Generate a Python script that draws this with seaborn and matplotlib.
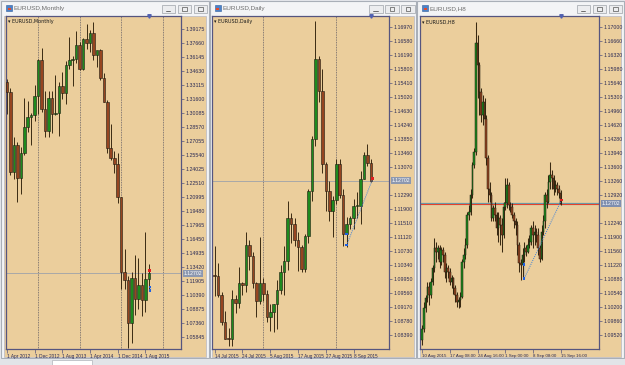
import matplotlib
matplotlib.use("Agg")
import matplotlib.pyplot as plt
import seaborn as sns
import pandas as pd
from matplotlib.patches import Rectangle

sns.set_theme(style="white")
plt.rcParams["font.family"] = ["Liberation Sans", "DejaVu Sans"]

# ---------------- data ----------------
# Monthly EURUSD, Apr 2012 .. Sep 2015
monthly_open = [1.3340, 1.3235, 1.2365, 1.2665, 1.2300, 1.2575, 1.2860, 1.2960, 1.2985, 1.3190,
                1.3580, 1.3055, 1.2815, 1.3165, 1.2995, 1.3010, 1.3300, 1.3220, 1.3525, 1.3585,
                1.3590, 1.3745, 1.3485, 1.3805, 1.3770, 1.3870, 1.3635, 1.3690, 1.3390, 1.3130,
                1.2630, 1.2525, 1.2450, 1.2100, 1.1290, 1.1195, 1.0730, 1.1220, 1.0990, 1.1145,
                1.0985, 1.1210]
monthly_high = [1.3380, 1.3283, 1.2748, 1.2693, 1.2636, 1.3172, 1.3140, 1.3012, 1.3308, 1.3590,
                1.3711, 1.3246, 1.3243, 1.3243, 1.3416, 1.3345, 1.3452, 1.3568, 1.3832, 1.3621,
                1.3893, 1.3775, 1.3825, 1.3967, 1.3905, 1.3993, 1.3677, 1.3700, 1.3444, 1.3150,
                1.2887, 1.2601, 1.2570, 1.2100, 1.1534, 1.1240, 1.1290, 1.1466, 1.1436, 1.1278,
                1.1714, 1.1373]
monthly_low = [1.3001, 1.2335, 1.2288, 1.2042, 1.2132, 1.2557, 1.2802, 1.2661, 1.2925, 1.2998,
               1.3019, 1.2745, 1.2746, 1.2795, 1.2990, 1.2755, 1.3161, 1.3105, 1.3480, 1.3295,
               1.3545, 1.3477, 1.3475, 1.3705, 1.3673, 1.3587, 1.3503, 1.3366, 1.3130, 1.2570,
               1.2500, 1.2358, 1.2035, 1.1098, 1.1098, 1.0462, 1.0520, 1.0819, 1.0888, 1.0808,
               1.0848, 1.1087]
monthly_close = [1.3235, 1.2365, 1.2665, 1.2300, 1.2575, 1.2860, 1.2960, 1.2985, 1.3190, 1.3580,
                 1.3055, 1.2815, 1.3165, 1.2995, 1.3010, 1.3300, 1.3220, 1.3525, 1.3585, 1.3590,
                 1.3745, 1.3485, 1.3805, 1.3770, 1.3870, 1.3635, 1.3690, 1.3390, 1.3130, 1.2630,
                 1.2525, 1.2450, 1.2100, 1.1290, 1.1195, 1.0730, 1.1220, 1.0990, 1.1145, 1.0985,
                 1.1210, 1.1270]
monthly_xlabels = ["1 Apr 2012", "1 Dec 2012", "1 Aug 2013", "1 Apr 2014", "1 Dec 2014", "1 Aug 2015"]
monthly_xlabel_bars = [0, 8, 16, 24, 32, 40]
monthly_separators = [9, 21, 33, 45]
monthly_yticks = [1.05845, 1.07360, 1.08875, 1.10390, 1.11905, 1.13420, 1.14935, 1.16450,
                  1.17965, 1.19480, 1.20995, 1.22510, 1.24025, 1.25540, 1.27055, 1.28570,
                  1.30085, 1.31600, 1.33115, 1.34630, 1.36145, 1.37660, 1.39175]

# Daily EURUSD, 14 Jul 2015 .. 15 Sep 2015
daily_open = [1.1005, 1.1003, 1.0950, 1.0875, 1.0830, 1.0828, 1.0940, 1.0930, 1.0985, 1.0980,
              1.1090, 1.1060, 1.0985, 1.0935, 1.0985, 1.0955, 1.0890, 1.0905, 1.0925, 1.0965,
              1.1015, 1.1045, 1.1165, 1.1150, 1.1105, 1.1085, 1.1025, 1.1115, 1.1240, 1.1385,
              1.1610, 1.1520, 1.1315, 1.1240, 1.1185, 1.1215, 1.1315, 1.1230, 1.1120, 1.1150,
              1.1165, 1.1200, 1.1200, 1.1275, 1.1340, 1.1320]
daily_high = [1.1088, 1.1041, 1.0960, 1.0907, 1.0859, 1.0966, 1.0952, 1.1030, 1.0987, 1.1128,
              1.1104, 1.1072, 1.0987, 1.1113, 1.0998, 1.0965, 1.0925, 1.0927, 1.0993, 1.1035,
              1.1088, 1.1214, 1.1180, 1.1166, 1.1126, 1.1090, 1.1122, 1.1246, 1.1393, 1.1714,
              1.1618, 1.1581, 1.1321, 1.1268, 1.1227, 1.1331, 1.1330, 1.1247, 1.1168, 1.1171,
              1.1220, 1.1237, 1.1296, 1.1349, 1.1373, 1.1330]
daily_low = [1.0948, 1.0946, 1.0867, 1.0830, 1.0808, 1.0810, 1.0900, 1.0914, 1.0950, 1.0960,
             1.1020, 1.0970, 1.0890, 1.0926, 1.0934, 1.0875, 1.0850, 1.0848, 1.0856, 1.0955,
             1.0950, 1.1021, 1.1095, 1.1088, 1.1017, 1.1016, 1.1016, 1.1095, 1.1212, 1.1367,
             1.1489, 1.1290, 1.1185, 1.1157, 1.1113, 1.1205, 1.1221, 1.1087, 1.1086, 1.1134,
             1.1135, 1.1166, 1.1149, 1.1275, 1.1310, 1.1265]
daily_close = [1.1003, 1.0950, 1.0875, 1.0830, 1.0828, 1.0940, 1.0930, 1.0985, 1.0980, 1.1090,
               1.1060, 1.0985, 1.0935, 1.0985, 1.0955, 1.0890, 1.0905, 1.0925, 1.0965, 1.1015,
               1.1045, 1.1165, 1.1150, 1.1105, 1.1085, 1.1025, 1.1115, 1.1240, 1.1385, 1.1610,
               1.1520, 1.1315, 1.1240, 1.1185, 1.1215, 1.1315, 1.1230, 1.1120, 1.1150, 1.1165,
               1.1200, 1.1200, 1.1275, 1.1340, 1.1320, 1.1270]
daily_xlabels = ["14 Jul 2015", "24 Jul 2015", "5 Aug 2015", "17 Aug 2015", "27 Aug 2015", "8 Sep 2015"]
daily_xlabel_bars = [0, 8, 16, 24, 32, 40]
daily_separators = [14, 35]
daily_yticks = [1.08390, 1.08780, 1.09170, 1.09560, 1.09950, 1.10340, 1.10730, 1.11120,
                1.11510, 1.11900, 1.12290, 1.12680, 1.13070, 1.13460, 1.13850, 1.14240,
                1.14630, 1.15020, 1.15410, 1.15800, 1.16190, 1.16580, 1.16970]

# H8 EURUSD, 10 Aug 2015 00:00 .. 15 Sep 2015 16:00
h8_open = [1.0939, 1.0967, 1.1016, 1.1040, 1.1069, 1.1048, 1.1081, 1.1113, 1.1162, 1.1154,
           1.1162, 1.1129, 1.1158, 1.1146, 1.1105, 1.1113, 1.1105, 1.1081, 1.1089, 1.1065,
           1.1048, 1.1032, 1.1036, 1.1044, 1.1129, 1.1146, 1.1170, 1.1243, 1.1251, 1.1291,
           1.1364, 1.1396, 1.1660, 1.1607, 1.1542, 1.1486, 1.1518, 1.1477, 1.1380, 1.1307,
           1.1291, 1.1235, 1.1259, 1.1243, 1.1210, 1.1235, 1.1218, 1.1194, 1.1263, 1.1271,
           1.1316, 1.1267, 1.1263, 1.1243, 1.1227, 1.1218, 1.1170, 1.1125, 1.1121, 1.1146,
           1.1162, 1.1154, 1.1170, 1.1178, 1.1210, 1.1194, 1.1202, 1.1194, 1.1162, 1.1137,
           1.1202, 1.1227, 1.1291, 1.1275, 1.1324, 1.1340, 1.1332, 1.1307, 1.1316, 1.1307,
           1.1295]
h8_high = [1.0976, 1.1032, 1.1048, 1.1081, 1.1081, 1.1089, 1.1121, 1.1186, 1.1178, 1.1170,
           1.1170, 1.1166, 1.1166, 1.1154, 1.1125, 1.1121, 1.1113, 1.1097, 1.1093, 1.1073,
           1.1056, 1.1044, 1.1056, 1.1137, 1.1162, 1.1186, 1.1251, 1.1267, 1.1307, 1.1372,
           1.1405, 1.1712, 1.1680, 1.1615, 1.1550, 1.1534, 1.1526, 1.1486, 1.1388, 1.1324,
           1.1299, 1.1267, 1.1275, 1.1251, 1.1251, 1.1243, 1.1235, 1.1275, 1.1332, 1.1332,
           1.1324, 1.1275, 1.1271, 1.1251, 1.1235, 1.1227, 1.1178, 1.1137, 1.1162, 1.1178,
           1.1170, 1.1186, 1.1194, 1.1218, 1.1227, 1.1218, 1.1210, 1.1210, 1.1170, 1.1218,
           1.1243, 1.1299, 1.1307, 1.1340, 1.1372, 1.1352, 1.1340, 1.1328, 1.1324, 1.1316,
           1.1303]
h8_low = [1.0927, 1.0959, 1.1008, 1.1032, 1.1024, 1.1040, 1.1073, 1.1105, 1.1129, 1.1137,
          1.1113, 1.1121, 1.1129, 1.1089, 1.1081, 1.1089, 1.1073, 1.1065, 1.1052, 1.1032,
          1.1020, 1.1016, 1.1020, 1.1040, 1.1113, 1.1137, 1.1162, 1.1231, 1.1243, 1.1283,
          1.1356, 1.1388, 1.1526, 1.1486, 1.1469, 1.1461, 1.1461, 1.1364, 1.1275, 1.1275,
          1.1227, 1.1227, 1.1227, 1.1194, 1.1178, 1.1170, 1.1154, 1.1186, 1.1255, 1.1259,
          1.1255, 1.1251, 1.1235, 1.1210, 1.1194, 1.1146, 1.1105, 1.1085, 1.1089, 1.1129,
          1.1142, 1.1150, 1.1162, 1.1170, 1.1162, 1.1170, 1.1178, 1.1146, 1.1129, 1.1133,
          1.1194, 1.1210, 1.1259, 1.1271, 1.1307, 1.1307, 1.1291, 1.1299, 1.1291, 1.1283,
          1.1267]
h8_close = [1.0967, 1.1016, 1.1040, 1.1069, 1.1048, 1.1081, 1.1113, 1.1162, 1.1154, 1.1162,
            1.1129, 1.1158, 1.1146, 1.1105, 1.1113, 1.1105, 1.1081, 1.1089, 1.1065, 1.1048,
            1.1032, 1.1036, 1.1044, 1.1129, 1.1146, 1.1170, 1.1243, 1.1251, 1.1291, 1.1364,
            1.1396, 1.1660, 1.1607, 1.1542, 1.1486, 1.1518, 1.1477, 1.1380, 1.1307, 1.1291,
            1.1235, 1.1259, 1.1243, 1.1210, 1.1235, 1.1218, 1.1194, 1.1263, 1.1271, 1.1316,
            1.1267, 1.1263, 1.1243, 1.1227, 1.1218, 1.1170, 1.1125, 1.1121, 1.1146, 1.1162,
            1.1154, 1.1170, 1.1178, 1.1210, 1.1194, 1.1202, 1.1194, 1.1162, 1.1137, 1.1202,
            1.1227, 1.1291, 1.1275, 1.1324, 1.1340, 1.1332, 1.1307, 1.1316, 1.1307, 1.1295,
            1.1270]
h8_xlabels = ["10 Aug 2015", "17 Aug 08:00", "24 Aug 16:00", "1 Sep 00:00", "8 Sep 08:00", "15 Sep 16:00"]
h8_xlabel_bars = [0, 16, 32, 48, 64, 80]
h8_yticks = [1.09520, 1.09860, 1.10200, 1.10540, 1.10880, 1.11220, 1.11560, 1.11900,
             1.12240, 1.12580, 1.12920, 1.13260, 1.13600, 1.13940, 1.14280, 1.14620,
             1.14960, 1.15300, 1.15640, 1.15980, 1.16320, 1.16660, 1.17000]

bid_price = 1.12702
bid_label = "1.12702"

# trade marks (bar index, price)
daily_trade_bar = [38, 38, 45.5]
daily_trade_price = [1.1122, 1.1090, 1.1275]
h8_trade_bar = [59, 59, 80.5]
h8_trade_price = [1.1123, 1.1089, 1.1279]
monthly_trade_bar = [41.3, 41.3, 41.3]
monthly_trade_price = [1.1125, 1.1085, 1.1300]

# ---------------- styling ----------------
W, H = 625, 365
TAN = "#EBCE9C"
FRAME = "#55557F"
TXT = "#2A2A55"
BULL = "#1E8A1E"
BEAR = "#964520"
WICK = "#3A2A12"
EDGE = "#1C1A10"
TRADE = "#3C7FD8"

fig = plt.figure(figsize=(W / 100, H / 100), dpi=100)
fig.patch.set_facecolor("#E6E8EC")

bg = fig.add_axes([0, 0, 1, 1])
bg.set_xlim(0, W)
bg.set_ylim(H, 0)
bg.axis("off")


def window(x0, x1, title):
    bg.add_patch(Rectangle((x0, 1), x1 - x0, 357, facecolor="#F3F4F6", edgecolor="#A9AFB8", lw=0.8))
    bg.add_patch(Rectangle((x0 + 2.5, 15.5), x1 - x0 - 5, 341, facecolor=TAN, edgecolor="#B8B8C4", lw=0.5))
    bg.add_patch(Rectangle((x0 + 5, 5), 6, 6, facecolor="#4C82C8", edgecolor="#2E5E9E", lw=0.4))
    bg.add_patch(Rectangle((x0 + 6.5, 7.5), 3, 2.5, facecolor="#E44A2A", edgecolor="none"))
    bg.text(x0 + 13, 8.3, title, fontsize=4.6, color="#6E6E6E", va="center", ha="left")
    for bx in [x1 - 47, x1 - 31, x1 - 15]:
        bg.add_patch(Rectangle((bx, 5), 13.5, 8, facecolor="#ECEDEF", edgecolor="#9EA3AA", lw=0.5))
    bg.plot([x1 - 43, x1 - 38.5], [10.5, 10.5], color="#555", lw=0.6)
    bg.add_patch(Rectangle((x1 - 26.5, 7), 4.5, 4, facecolor="none", edgecolor="#555", lw=0.5))
    bg.add_patch(Rectangle((x1 - 10.5, 7), 4.5, 4, facecolor="none", edgecolor="#555", lw=0.5))


def candles(ax, xs, o, h, l, c, width, wick_lw, edge_lw):
    df = pd.DataFrame({"x": xs, "open": o, "high": h, "low": l, "close": c})
    df["bottom"] = df[["open", "close"]].min(axis=1)
    df["height"] = (df["close"] - df["open"]).abs()
    df["bull"] = df["close"] >= df["open"]
    ax.vlines(df["x"], df["low"], df["high"], color=WICK, lw=wick_lw, zorder=2)
    colors = [BULL if b else BEAR for b in df["bull"]]
    hmin = (ax.get_ylim()[1] - ax.get_ylim()[0]) * 0.003
    ax.bar(df["x"], df["height"].clip(lower=hmin), width=width, bottom=df["bottom"],
           color=colors, edgecolor=EDGE, linewidth=edge_lw, zorder=3)


def chart(px0, px1, xlim, ylim, yticks, xbars, xlabels, name, xsize):
    ax = fig.add_axes([px0 / W, 1 - 349 / H, (px1 - px0) / W, (349 - 16) / H])
    ax.set_facecolor(TAN)
    ax.set_xlim(*xlim)
    ax.set_ylim(*ylim)
    for s in ax.spines.values():
        s.set_color(FRAME)
        s.set_linewidth(0.9)
    ax.yaxis.tick_right()
    # ticks hidden behind the bid price box are not labelled
    span = ylim[1] - ylim[0]
    shown = [v for v in yticks if abs(v - bid_price) / span * 333 > 5.5]
    ax.set_yticks(shown)
    ax.set_yticklabels([f"{v:.5f}" for v in shown])
    ax.set_xticks(xbars)
    ax.set_xticklabels(xlabels)
    ax.tick_params(axis="y", which="both", right=True, left=False, direction="out", length=2.2,
                   width=0.5, color=FRAME, labelsize=3.75, labelcolor=TXT, pad=1.2)
    ax.tick_params(axis="x", which="both", bottom=True, direction="out", length=3,
                   width=0.5, color=FRAME, labelsize=xsize, labelcolor=TXT, pad=0.6)
    for t in ax.get_xticklabels():
        t.set_horizontalalignment("left")
    ax.grid(False)
    ax.text(0.012, 0.99, "\u25be " + name, transform=ax.transAxes, fontsize=3.5,
            color="#1A1A1A", va="top", ha="left", family=["DejaVu Sans"])
    return ax


def price_line(ax, color, box_color, under=None):
    if under is not None:
        ax.axhline(bid_price, color=under, lw=1.6, zorder=1, alpha=0.8)
    ax.axhline(bid_price, color=color, lw=0.7, zorder=1)
    ax.annotate(bid_label, xy=(1.0, bid_price), xycoords=("axes fraction", "data"),
                xytext=(2.0, 0), textcoords="offset points", fontsize=3.7, color="white",
                va="center", ha="left",
                bbox=dict(boxstyle="square,pad=0.15", facecolor=box_color, edgecolor="none"))


def shift_marker(ax, xbar):
    ax.plot([xbar], [ax.get_ylim()[1]], marker="v", markersize=2.5, color="#5060B0",
            clip_on=False, zorder=6)


def trade(ax, bars, prices, link=True):
    tdf = pd.DataFrame({"bar": bars, "price": prices})
    if link:
        sns.lineplot(data=tdf.iloc[[1, 2]], x="bar", y="price", ax=ax, color=TRADE,
                     lw=0.7, linestyle=(0, (1, 1.2)), zorder=5)
    sns.lineplot(data=tdf.iloc[[0, 1]], x="bar", y="price", ax=ax, color=TRADE,
                 lw=0.7, linestyle=(0, (1, 1.2)), zorder=5)
    sns.scatterplot(data=tdf.iloc[[0, 1]], x="bar", y="price", ax=ax, color="#1E60E0",
                    marker="s", s=3, edgecolor="none", zorder=6)
    sns.scatterplot(data=tdf.iloc[[2]], x="bar", y="price", ax=ax, color="#E02020",
                    marker="s", s=4, edgecolor="none", zorder=6)
    ax.set_xlabel("")
    ax.set_ylabel("")


window(1, 208.5, "EURUSD,Monthly")
window(209.5, 416, "EURUSD,Daily")
window(417, 623.5, "EURUSD,H8")

# ---- monthly ----
axm = chart(6, 181, (-0.29, 50.3), (1.04513, 1.40583), monthly_yticks,
            monthly_xlabel_bars, monthly_xlabels, "EURUSD,Monthly", 3.4)
for s in monthly_separators:
    axm.axvline(s, color="#4A4A5A", lw=0.5, linestyle=(0, (1.2, 1.2)), zorder=1)
price_line(axm, "#A8A8A8", "#8C98B0")
candles(axm, list(range(len(monthly_open))), monthly_open, monthly_high, monthly_low,
        monthly_close, 0.74, 0.7, 0.4)
trade(axm, monthly_trade_bar, monthly_trade_price, link=False)
shift_marker(axm, 41)

# ---- daily ----
axd = chart(212, 389, (-0.78, 50.2), (1.08008, 1.17285), daily_yticks,
            daily_xlabel_bars, daily_xlabels, "EURUSD,Daily", 3.3)
for s in daily_separators:
    axd.axvline(s, color="#4A4A5A", lw=0.5, linestyle=(0, (1.2, 1.2)), zorder=1)
price_line(axd, "#A8A8A8", "#8C98B0")
candles(axd, list(range(len(daily_open))), daily_open, daily_high, daily_low,
        daily_close, 0.74, 0.7, 0.4)
trade(axd, daily_trade_bar, daily_trade_price)
shift_marker(axd, 45)

# ---- H8 ----
axh = chart(420, 599, (-1.3, 102.2), (1.09173, 1.17260), h8_yticks,
            h8_xlabel_bars, h8_xlabels, "EURUSD,H8", 3.15)
price_line(axh, "#E8402A", "#7F8FAF", under="#4C8CA8")
candles(axh, list(range(len(h8_open))), h8_open, h8_high, h8_low,
        h8_close, 0.9, 0.75, 0.35)
trade(axh, h8_trade_bar, h8_trade_price)
shift_marker(axh, 80)

bg.add_patch(Rectangle((0, 359), W, 6, facecolor="#E2E4E8", edgecolor="none"))
bg.add_patch(Rectangle((52, 360), 40, 5, facecolor="#FFFFFF", edgecolor="#B0B4BA", lw=0.5))

fig.savefig("out.png", dpi=100, facecolor=fig.get_facecolor())
